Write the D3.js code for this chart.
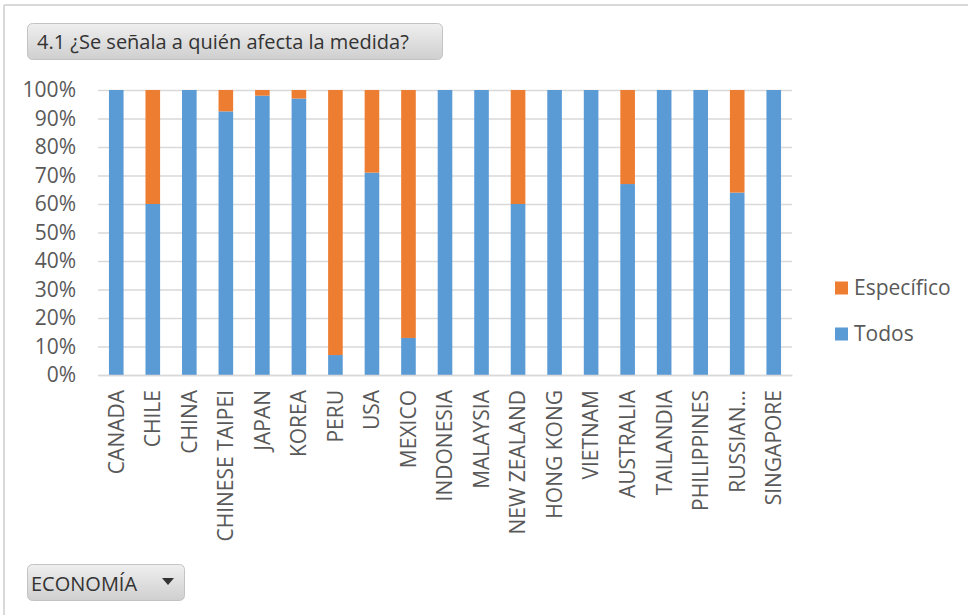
<!DOCTYPE html>
<html>
<head>
<meta charset="utf-8">
<script src="https://cdn.jsdelivr.net/npm/d3@7"></script>
<style>
  html, body { margin: 0; padding: 0; background: #fff; }
  svg { display: block; font-family: "Open Sans", "Noto Sans", sans-serif; }
</style>
</head>
<body>
<svg id="chart" width="968" height="615"></svg>
<script>
(function () {
  "use strict";

  const categories = ["CANADA", "CHILE", "CHINA", "CHINESE TAIPEI", "JAPAN", "KOREA", "PERU", "USA",
    "MEXICO", "INDONESIA", "MALAYSIA", "NEW ZEALAND", "HONG KONG", "VIETNAM", "AUSTRALIA",
    "TAILANDIA", "PHILIPPINES", "RUSSIAN...", "SINGAPORE"];
  // share of "Todos" in percent; "Específico" is the rest up to 100
  const todos = [100, 60, 100, 92.5, 98, 97, 7, 71, 13, 100, 100, 60, 100, 100, 67, 100, 100, 64, 100];
  const especifico = todos.map((v) => 100 - v);
  const yTicks = [0, 10, 20, 30, 40, 50, 60, 70, 80, 90, 100];
  const seriesNames = ["Todos", "Específico"];
  const seriesColors = ["#5B9BD5", "#ED7D31"];

  const svg = d3.select("#chart");
  const margin = { left: 98, right: 176, top: 90, bottom: 240 };
  const width = 968, height = 615;

  const x = d3.scaleBand()
    .domain(categories)
    .range([margin.left, width - margin.right])
    .paddingInner(0.6)
    .paddingOuter(0.3);

  const y = d3.scaleLinear()
    .domain([0, 100])
    .range([height - margin.bottom, margin.top]);

  // outer frame (top and left edges only visible)
  svg.append("line").attr("x1", 4).attr("x2", width).attr("y1", 5).attr("y2", 5)
    .attr("stroke", "#d9d9d9").attr("stroke-width", 2);
  svg.append("line").attr("x1", 4).attr("x2", 4).attr("y1", 5).attr("y2", height)
    .attr("stroke", "#d9d9d9").attr("stroke-width", 2);

  const defs = svg.append("defs");
  const grad = defs.append("linearGradient").attr("id", "btn").attr("x1", 0).attr("x2", 0).attr("y1", 0).attr("y2", 1);
  grad.append("stop").attr("offset", "0%").attr("stop-color", "#efefef");
  grad.append("stop").attr("offset", "100%").attr("stop-color", "#cfcfcf");

  // title button
  svg.append("rect").attr("x", 27.5).attr("y", 23.5).attr("width", 415).attr("height", 36)
    .attr("rx", 5).attr("fill", "url(#btn)").attr("stroke", "#c3c3c3");
  svg.append("text").attr("x", 37).attr("y", 48.5)
    .attr("font-size", 20).attr("fill", "#333")
    .text("4.1 ¿Se señala a quién afecta la medida?");

  // gridlines
  const yAxis = d3.axisLeft(y).tickValues(yTicks).tickFormat((d) => d + "%")
    .tickSize(-(width - margin.right - margin.left)).tickPadding(22);
  const gy = svg.append("g").attr("transform", `translate(${margin.left},0)`).call(yAxis)
    .attr("font-family", null).attr("font-size", null);
  gy.select(".domain").remove();
  gy.selectAll(".tick line").attr("stroke", "#d9d9d9").attr("stroke-width", 1.3);
  gy.selectAll(".tick text").attr("font-size", 21).attr("fill", "#595959");

  // stacked bars
  const rows = categories.map((c, i) => ({ cat: c, Todos: todos[i], "Específico": especifico[i] }));
  const stacked = d3.stack().keys(seriesNames)(rows);

  svg.append("g").selectAll("g")
    .data(stacked)
    .join("g")
    .attr("fill", (d, i) => seriesColors[i])
    .selectAll("rect")
    .data((d) => d)
    .join("rect")
    .attr("x", (d) => x(d.data.cat))
    .attr("width", x.bandwidth())
    .attr("y", (d) => y(d[1]))
    .attr("height", (d) => y(d[0]) - y(d[1]));

  // x axis
  const xAxis = d3.axisBottom(x).tickSize(0).tickPadding(0);
  const gx = svg.append("g").attr("transform", `translate(0,${y(0)})`).call(xAxis)
    .attr("font-family", null).attr("font-size", null);
  gx.select(".domain").attr("stroke", "#d9d9d9").attr("stroke-width", 1.3);
  gx.selectAll(".tick text")
    .attr("font-size", 21).attr("fill", "#595959")
    .attr("text-anchor", "end")
    .attr("transform", "rotate(-90)")
    .attr("x", -15).attr("y", 0).attr("dy", "0.35em");

  // legend
  const legend = svg.append("g");
  const legendItems = [{ name: "Específico", color: seriesColors[1], y: 288 }, { name: "Todos", color: seriesColors[0], y: 334 }];
  legendItems.forEach((it) => {
    legend.append("rect").attr("x", 835).attr("y", it.y - 6.5).attr("width", 13).attr("height", 13).attr("fill", it.color);
    legend.append("text").attr("x", 854).attr("y", it.y).attr("dy", "0.35em")
      .attr("font-size", 21).attr("fill", "#595959").text(it.name);
  });

  // field button
  svg.append("rect").attr("x", 27.5).attr("y", 564.5).attr("width", 157).attr("height", 36)
    .attr("rx", 5).attr("fill", "url(#btn)").attr("stroke", "#c3c3c3");
  svg.append("text").attr("x", 31).attr("y", 590.5)
    .attr("font-size", 20).attr("fill", "#333").text("ECONOMÍA");
  svg.append("path").attr("d", "M162,578 L174,578 L168,585 Z").attr("fill", "#333");
})();
</script>
</body>
</html>
